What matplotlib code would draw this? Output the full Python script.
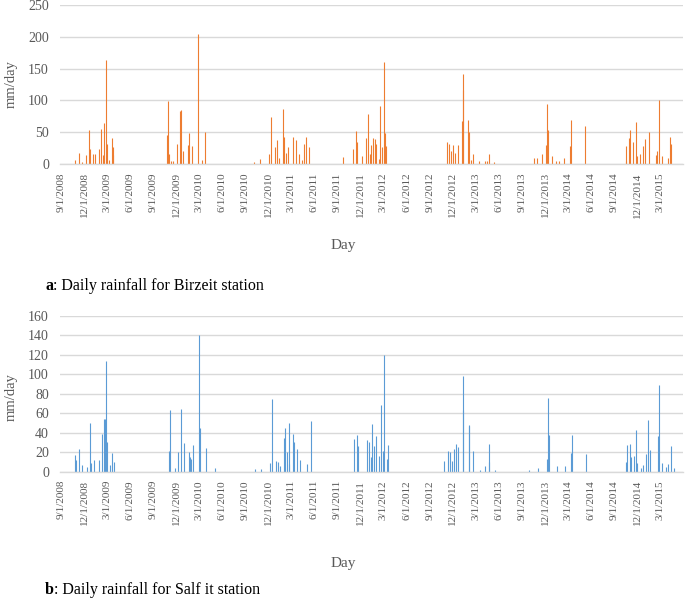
import matplotlib
matplotlib.use("Agg")
import matplotlib.pyplot as plt
import numpy as np
import pandas as pd

# ---- data (days since 2008-09-01, rainfall mm/day) ----
start_date = "2008-09-01"
end_day = 2463

birzeit_day = [55, 70, 84, 100, 112, 115, 128, 136, 149, 160, 165, 172, 177, 181, 191, 201, 205, 207,
               421, 425, 426, 437, 445, 461, 470, 474, 483, 502, 508, 520, 542, 560, 569,
               764, 787, 825, 833, 849, 854, 865, 879, 884, 891, 900, 919, 932, 944, 953, 962, 970, 983,
               1116, 1158, 1170, 1173, 1193, 1209, 1217, 1224, 1229, 1237, 1242, 1249, 1258, 1265, 1272, 1278, 1284, 1288,
               1530, 1535, 1546, 1554, 1562, 1571, 1587, 1591, 1593, 1612, 1614, 1622, 1630, 1655, 1678, 1688, 1694, 1715,
               1873, 1886, 1903, 1921, 1926, 1930, 1944, 1960, 1973, 1993, 2016, 2020, 2075,
               2236, 2239, 2251, 2255, 2265, 2277, 2280, 2294, 2303, 2314, 2330, 2356, 2362, 2367, 2381, 2405, 2412, 2417]
birzeit_mm = [7, 18, 3, 14, 53, 24, 16, 15, 24, 55, 14, 65, 163, 32, 7, 41, 27, 14,
              46, 99, 16, 5, 5, 32, 84, 85, 20, 30, 49, 29, 204, 6, 50,
              3, 8, 15, 74, 26, 37, 10, 87, 43, 18, 26, 42, 38, 16, 6, 31, 42, 27,
              11, 24, 52, 35, 13, 41, 79, 16, 30, 41, 39, 31, 8, 91, 26, 161, 49, 29,
              35, 32, 20, 30, 18, 30, 68, 141, 116, 69, 51, 6, 16, 5, 5, 5, 16, 3,
              9, 9, 16, 30, 95, 53, 12, 5, 5, 10, 29, 69, 59,
              4, 29, 41, 53, 35, 66, 12, 15, 29, 39, 50, 14, 21, 100, 12, 9, 43, 31]

salfit_day = [54, 58, 73, 84, 104, 115, 119, 132, 152, 164, 172, 176, 180, 183, 195, 203, 209,
              428, 430, 450, 465, 475, 487, 506, 511, 515, 524, 547, 549, 574, 609,
              768, 792, 828, 837, 853, 861, 869, 882, 888, 894, 901, 904, 920, 923, 935, 948, 974, 989,
              1162, 1173, 1176, 1213, 1221, 1226, 1232, 1239, 1249, 1261, 1268, 1276, 1280, 1290, 1295,
              1518, 1534, 1542, 1550, 1558, 1564, 1573, 1591, 1593, 1614, 1617, 1633, 1659, 1680, 1694, 1696, 1719,
              1855, 1890, 1926, 1930, 1932, 1963, 1997, 2021, 2024, 2079,
              2239, 2243, 2255, 2258, 2270, 2277, 2280, 2297, 2306, 2318, 2326, 2332, 2363, 2367, 2380, 2396, 2405, 2417, 2429]
salfit_mm = [17, 12, 23, 7, 5, 50, 9, 12, 12, 39, 54, 54, 114, 30, 7, 19, 10,
             21, 63, 4, 20, 64, 29, 20, 15, 13, 27, 140, 45, 24, 4,
             3, 3, 9, 75, 11, 10, 6, 35, 45, 20, 8, 50, 39, 30, 23, 12, 8, 52,
             34, 38, 26, 33, 30, 15, 49, 26, 37, 16, 68, 21, 120, 13, 27,
             11, 21, 20, 11, 23, 28, 25, 63, 98, 47, 48, 21, 2, 6, 10, 28, 2,
             2, 4, 13, 76, 38, 6, 6, 19, 38, 18,
             10, 27, 28, 15, 16, 43, 9, 4, 7, 18, 53, 22, 37, 89, 9, 5, 8, 26, 4]

tick_start, tick_end = "2008-09-01", "2015-03-01"
captions = [("a", ": Daily rainfall for Birzeit station"),
            ("b", ": Daily rainfall for Salf it station")]

# ---- figure ----
W, H = 685, 599
fig = plt.figure(figsize=(W / 100, H / 100), dpi=100)
plt.rcParams['font.family'] = ['Liberation Serif', 'DejaVu Serif']

t0 = pd.Timestamp(start_date)
tick_dates = pd.date_range(tick_start, tick_end, freq="3MS")
tick_days = [(d - t0).days for d in tick_dates]
tick_labels = [f"{d.month}/{d.day}/{d.year}" for d in tick_dates]

GRAY = "#595959"
GRID = "#D9D9D9"

def make_panel(rect, days, vals, color, ymax, ystep):
    ax = fig.add_axes(rect)
    ax.vlines(days, 0, vals, color=color, linewidth=0.8)
    ax.set_xlim(-4, end_day)
    ax.set_ylim(0, ymax)
    ax.set_yticks(np.arange(0, ymax + 1, ystep))
    ax.set_xticks(tick_days)
    ax.set_xticklabels(tick_labels, rotation=90, fontsize=8, color=GRAY)
    ax.tick_params(axis='y', length=0, pad=8, labelsize=10, labelcolor=GRAY)
    ax.tick_params(axis='x', length=0, pad=6)
    ax.grid(axis='y', color=GRID, linewidth=1.0)
    ax.set_axisbelow(True)
    for s in ['left', 'right', 'top']:
        ax.spines[s].set_visible(False)
    ax.spines['bottom'].set_color(GRID)
    ax.spines['bottom'].set_linewidth(1.0)
    return ax

def px_rect(left, top, right, bottom):
    return [left / W, 1 - bottom / H, (right - left) / W, (bottom - top) / H]

ax1 = make_panel(px_rect(60, 5, 683, 164), birzeit_day, birzeit_mm, "#ED7D31", 250, 50)
ax2 = make_panel(px_rect(60, 315.7, 683, 471.7), salfit_day, salfit_mm, "#5B9BD5", 160, 20)

fig.text(11 / W, 1 - 84 / H, "mm/day", rotation=90, ha='center', va='center', fontsize=10.5, color=GRAY)
fig.text(11 / W, 1 - 397 / H, "mm/day", rotation=90, ha='center', va='center', fontsize=10.5, color=GRAY)
fig.text(343 / W, 1 - 246 / H, "Day", ha='center', va='center', fontsize=11, color=GRAY)
fig.text(343 / W, 1 - 563 / H, "Day", ha='center', va='center', fontsize=11, color=GRAY)

for (bold, rest), yc in zip(captions, [286, 590]):
    t = fig.text(45 / W, 1 - yc / H, bold, ha='left', va='center', fontsize=11.5, fontweight='bold', color='black')
    plt.annotate(rest, xy=(1, 0), xycoords=t, va='bottom', ha='left', fontsize=11.5, color='black')

fig.savefig("out.png", dpi=100)
